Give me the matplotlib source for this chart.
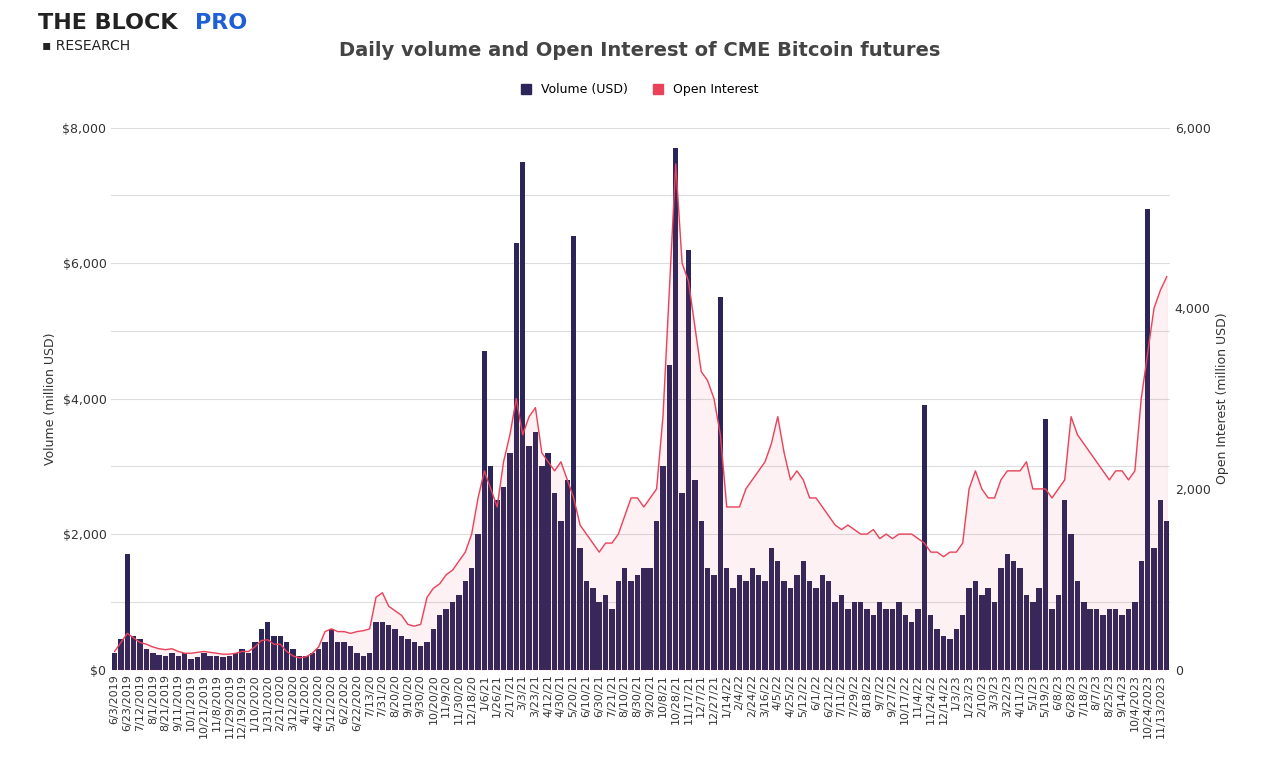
import matplotlib.pyplot as plt
from matplotlib.patches import Patch
from matplotlib.ticker import FuncFormatter

# tick labels (one every two samples)
tick_labels = [
    "6/3/2019", "6/23/2019", "7/12/2019", "8/1/2019", "8/21/2019", "9/11/2019", "10/1/2019",
    "10/21/2019", "11/8/2019", "11/29/2019", "12/19/2019", "1/10/2020", "1/31/2020", "2/21/2020",
    "3/12/2020", "4/1/2020", "4/22/2020", "5/12/2020", "6/2/2020", "6/22/2020", "7/13/20",
    "7/31/20", "8/20/20", "9/10/20", "9/30/20", "10/20/20", "11/9/20", "11/30/20", "12/18/20",
    "1/6/21", "1/26/21", "2/17/21", "3/3/21", "3/23/21", "4/12/21", "4/30/21", "5/20/21",
    "6/10/21", "6/30/21", "7/21/21", "8/10/21", "8/30/21", "9/20/21", "10/8/21", "10/28/21",
    "11/17/21", "12/7/21", "12/27/21", "1/14/22", "2/4/22", "2/24/22", "3/16/22", "4/5/22",
    "4/25/22", "5/12/22", "6/1/22", "6/21/22", "7/11/22", "7/29/22", "8/18/22", "9/7/22",
    "9/27/22", "10/17/22", "11/4/22", "11/24/22", "12/14/22", "1/3/23", "1/23/23", "2/10/23",
    "3/3/23", "3/22/23", "4/11/23", "5/1/23", "5/19/23", "6/8/23", "6/28/23", "7/18/23",
    "8/7/23", "8/25/23", "9/14/23", "10/4/2023", "10/24/2023", "11/13/2023",
]

# volume, million USD
volume = [
    250, 450, 1700, 500, 450, 300, 250, 220, 200, 250, 200, 250, 150, 180, 250, 200, 200, 180,
    200, 250, 300, 250,
    400, 600, 700, 500, 500, 400, 300, 200, 200, 250, 300, 400, 600, 400, 400, 350, 250, 200,
    250, 700, 700, 650, 600, 500, 450, 400, 350, 400, 600, 800, 900, 1000, 1100, 1300, 1500, 2000,
    4700, 3000, 2500, 2700, 3200, 6300, 7500, 3300, 3500, 3000, 3200, 2600, 2200, 2800, 6400, 1800,
    1300, 1200, 1000, 1100, 900, 1300, 1500, 1300, 1400, 1500, 1500, 2200, 3000, 4500, 7700, 2600,
    6200, 2800, 2200, 1500, 1400, 5500,
    1500, 1200, 1400, 1300, 1500, 1400, 1300, 1800, 1600, 1300, 1200, 1400, 1600, 1300, 1200, 1400,
    1300, 1000, 1100, 900, 1000, 1000, 900, 800, 1000, 900, 900, 1000, 800, 700, 900, 3900,
    800, 600, 500, 450,
    600, 800, 1200, 1300, 1100, 1200, 1000, 1500, 1700, 1600, 1500, 1100, 1000, 1200, 3700, 900,
    1100, 2500, 2000, 1300, 1000, 900, 900, 800, 900, 900, 800, 900, 1000, 1600, 6800, 1800,
    2500, 2200,
]

# open interest, million USD
open_interest = [
    200, 300, 400, 350, 300, 280, 250, 230, 220, 230, 200, 180, 180, 190, 200, 190, 180, 170,
    170, 180, 200, 200,
    250, 320, 330, 280, 280, 200, 150, 130, 140, 180, 250, 420, 450, 420, 420, 400, 420, 430,
    450, 800, 850, 700, 650, 600, 500, 480, 500, 800, 900, 950, 1050, 1100, 1200, 1300, 1500, 1900,
    2200, 2000, 1800, 2300, 2600, 3000, 2600, 2800, 2900, 2400, 2300, 2200, 2300, 2100, 1900, 1600,
    1500, 1400, 1300, 1400, 1400, 1500, 1700, 1900, 1900, 1800, 1900, 2000, 2800, 4200, 5600, 4500,
    4300, 3800, 3300, 3200, 3000, 2600,
    1800, 1800, 1800, 2000, 2100, 2200, 2300, 2500, 2800, 2400, 2100, 2200, 2100, 1900, 1900, 1800,
    1700, 1600, 1550, 1600, 1550, 1500, 1500, 1550, 1450, 1500, 1450, 1500, 1500, 1500, 1450, 1400,
    1300, 1300, 1250, 1300,
    1300, 1400, 2000, 2200, 2000, 1900, 1900, 2100, 2200, 2200, 2200, 2300, 2000, 2000, 2000, 1900,
    2000, 2100, 2800, 2600, 2500, 2400, 2300, 2200, 2100, 2200, 2200, 2100, 2200, 3000, 3500, 4000,
    4200, 4350,
]

VOL_COLOR = "#2b2559"
OI_COLOR = "#e8435a"

fig = plt.figure(figsize=(12.8, 7.74), dpi=100)
ax = fig.add_axes([0.087, 0.135, 0.827, 0.70])
ax2 = ax.twinx()

x = list(range(len(volume)))
ax.bar(x, volume, width=0.85, color=VOL_COLOR, zorder=2)
ax2.plot(x, open_interest, color=OI_COLOR, lw=1, zorder=3)
ax2.fill_between(x, open_interest, color=OI_COLOR, alpha=0.07, zorder=1)

ax.set_xlim(-0.5, len(volume) - 0.5)
ax.set_ylim(0, 8000)
ax2.set_ylim(0, 6000)
ax.set_yticks(range(0, 8001, 1000))
ax2.set_yticks(range(0, 6001, 2000))
ax.yaxis.set_major_formatter(FuncFormatter(lambda v, p: f"${v:,.0f}" if v % 2000 == 0 else ""))
ax2.yaxis.set_major_formatter(FuncFormatter(lambda v, p: f"{v:,.0f}"))
ax.grid(axis="y", color="#dddddd", lw=0.8, zorder=0)
ax.set_xticks(range(0, len(volume), 2))
ax.set_xticklabels(tick_labels, rotation=90, fontsize=8)
for a in (ax, ax2):
    for s in a.spines.values():
        s.set_visible(False)
    a.tick_params(length=0, labelsize=9, colors="#333333")
ax.tick_params(axis="x", labelsize=8)
ax.set_ylabel("Volume (million USD)", fontsize=9, color="#333333")
ax2.set_ylabel("Open Interest (million USD)", fontsize=9, color="#333333")

fig.text(0.5, 0.928, "Daily volume and Open Interest of CME Bitcoin futures",
         ha="center", fontsize=14, fontweight="bold", color="#444444")
fig.text(0.03, 0.963, "THE BLOCK", fontsize=16, fontweight="bold", color="#222222")
fig.text(0.152, 0.963, "PRO", fontsize=16, fontweight="bold", color="#1f5fd6")
fig.text(0.033, 0.935, "▪ RESEARCH", fontsize=10, color="#222222")
fig.legend(handles=[Patch(color=VOL_COLOR, label="Volume (USD)"),
                    Patch(color=OI_COLOR, label="Open Interest")],
           loc="center", bbox_to_anchor=(0.5, 0.884), ncol=2, frameon=False,
           fontsize=9, handlelength=0.8, handleheight=0.8)

fig.savefig("out.png")
